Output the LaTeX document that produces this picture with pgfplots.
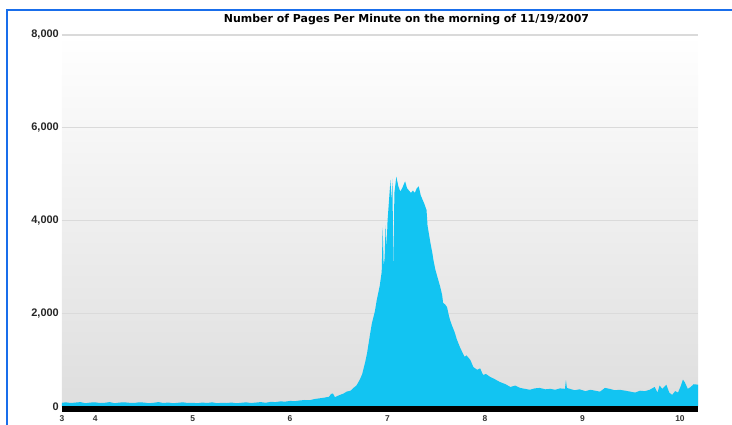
\documentclass[border=0pt]{standalone}
\usepackage{fontspec}
\setmainfont{Liberation Sans}
\newfontfamily\titlefont{DejaVu Sans}
\usepackage{pgfplots}
\usepackage{pgfplotstable}
\pgfplotsset{compat=1.18}

\definecolor{pagecyan}{RGB}{18,196,242}
\definecolor{frameblue}{RGB}{25,110,235}
\definecolor{gridgray}{RGB}{218,218,218}

% hour of the morning, pages per minute
\pgfplotstableread{
h p
3.66 80
3.70 90
3.75 75
3.80 85
3.85 95
3.90 70
3.95 85
4.00 90
4.05 75
4.10 80
4.15 95
4.20 70
4.25 85
4.30 90
4.35 80
4.40 75
4.45 90
4.50 85
4.55 70
4.60 80
4.65 95
4.70 75
4.75 85
4.80 70
4.85 80
4.90 90
4.95 75
5.00 80
5.05 70
5.10 85
5.15 75
5.20 90
5.25 70
5.30 80
5.35 75
5.40 85
5.45 70
5.50 80
5.55 90
5.60 75
5.65 85
5.70 95
5.75 80
5.80 100
5.85 95
5.90 110
5.95 105
6.00 120
6.05 115
6.10 130
6.15 140
6.20 135
6.25 160
6.30 175
6.35 190
6.40 210
6.42 270
6.44 280
6.46 200
6.50 240
6.55 280
6.58 320
6.62 340
6.65 400
6.68 450
6.70 520
6.72 600
6.74 700
6.77 950
6.79 1150
6.82 1550
6.84 1800
6.87 2050
6.89 2300
6.92 2600
6.94 2900
6.95 3850
6.96 3000
6.97 3200
6.98 3900
6.99 3400
7.00 4000
7.03 4880
7.04 4400
7.05 4900
7.06 2800
7.07 4600
7.09 4950
7.11 4750
7.13 4630
7.15 4700
7.17 4800
7.18 4850
7.20 4700
7.22 4650
7.24 4600
7.26 4650
7.28 4600
7.30 4700
7.32 4740
7.34 4550
7.36 4450
7.38 4350
7.40 4230
7.41 3900
7.44 3520
7.46 3300
7.47 3160
7.49 2950
7.51 2800
7.54 2580
7.56 2400
7.57 2230
7.59 2200
7.61 2140
7.63 1950
7.64 1870
7.66 1750
7.69 1590
7.71 1450
7.74 1290
7.76 1200
7.79 1070
7.81 1100
7.85 1000
7.88 850
7.92 790
7.95 820
7.98 680
8.01 700
8.05 640
8.09 600
8.15 530
8.21 480
8.26 420
8.31 450
8.36 400
8.41 380
8.46 360
8.51 390
8.56 400
8.62 370
8.67 380
8.72 360
8.77 390
8.82 380
8.83 570
8.84 400
8.87 380
8.92 350
8.97 370
9.03 330
9.08 360
9.13 340
9.18 320
9.23 400
9.28 380
9.33 350
9.38 360
9.44 340
9.49 320
9.54 300
9.59 340
9.64 330
9.69 360
9.74 420
9.77 300
9.79 450
9.82 380
9.86 470
9.89 300
9.92 250
9.95 330
9.98 300
10.01 450
10.03 580
10.05 520
10.08 380
10.11 420
10.14 480
10.185 470
}\pages

\begin{document}
\begin{tikzpicture}
\useasboundingbox (-62bp,-18.5bp) rectangle (670bp,406.5bp);
\begin{axis}[
    scale only axis,
    width=636bp, height=371.5bp,
    xmin=3.66, xmax=10.185,
    ymin=0, ymax=8000,
    axis line style={draw=none},
    major tick length=0pt,
    xtick={3.66,4,5,6,7,8,9,10},
    xticklabels={3,4,5,6,7,8,9,10},
    ytick={0,2000,4000,6000,8000},
    yticklabels={0,{2,000},{4,000},{6,000},{8,000}},
    ymajorgrids,
    grid style={gridgray, line width=1.2bp},
    axis background/.style={top color=white, middle color=black!3, bottom color=black!13},
    yticklabel style={font=\bfseries\fontsize{11}{11}\selectfont, text=black!85, inner sep=0pt, xshift=-3bp},
    xticklabel style={font=\bfseries\fontsize{8.5}{8.5}\selectfont, text=black!80, inner sep=0pt, yshift=-9bp},
]
\addplot[draw=none, fill=pagecyan] table[x=h, y=p] {\pages} \closedcycle;
\end{axis}
\fill[black] (0,-5.5bp) rectangle (636bp,0.5bp);
\node[font=\titlefont\bfseries\fontsize{11}{12}\selectfont] at (344.5bp,386.5bp)
    {Number of Pages Per Minute on the morning of 11/19/2007};
\draw[frameblue, line width=2bp] (-55bp,-18.5bp) -- (-55bp,396.5bp) -- (670bp,396.5bp);
\end{tikzpicture}
\end{document}
